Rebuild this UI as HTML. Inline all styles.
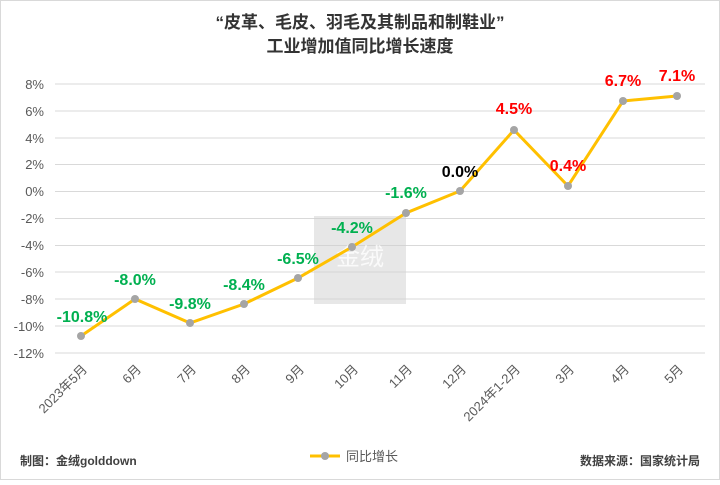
<!DOCTYPE html>
<html><head><meta charset="utf-8"><style>
html,body{margin:0;padding:0;background:#fff;}
body{width:720px;height:480px;overflow:hidden;}
</style></head><body>
<svg width="720" height="480" xmlns="http://www.w3.org/2000/svg" font-family="'Liberation Sans','Noto Sans CJK SC',sans-serif">
<rect x="0.5" y="0.5" width="719" height="479" fill="#fff" stroke="#d9d9d9"/>
<text x="360" y="28" text-anchor="middle" font-size="17" font-weight="bold" fill="#333">“皮革、毛皮、羽毛及其制品和制鞋业”</text>
<text x="360" y="52" text-anchor="middle" font-size="17" font-weight="bold" fill="#333">工业增加值同比增长速度</text>
<g stroke="#d9d9d9" stroke-width="1">
<line x1="55" x2="705" y1="84" y2="84"/><line x1="55" x2="705" y1="111" y2="111"/>
<line x1="55" x2="705" y1="138" y2="138"/><line x1="55" x2="705" y1="164.5" y2="164.5"/>
<line x1="55" x2="705" y1="191.5" y2="191.5"/><line x1="55" x2="705" y1="218.5" y2="218.5"/>
<line x1="55" x2="705" y1="245.5" y2="245.5"/><line x1="55" x2="705" y1="272" y2="272"/>
<line x1="55" x2="705" y1="299" y2="299"/><line x1="55" x2="705" y1="326" y2="326"/>
<line x1="55" x2="705" y1="353" y2="353"/>
</g>
<g font-size="13" fill="#595959" text-anchor="end">
<text x="44" y="89">8%</text><text x="44" y="116">6%</text><text x="44" y="143">4%</text>
<text x="44" y="169">2%</text><text x="44" y="196">0%</text><text x="44" y="223">-2%</text>
<text x="44" y="250">-4%</text><text x="44" y="277">-6%</text><text x="44" y="304">-8%</text>
<text x="44" y="331">-10%</text><text x="44" y="358">-12%</text>
</g>
<rect x="314" y="216" width="92" height="88" fill="#d0d0d0" opacity="0.5"/>
<text x="360" y="265" text-anchor="middle" font-size="24" fill="#fff" opacity="0.8">金绒</text>
<polyline fill="none" stroke="#ffc000" stroke-width="3" points="81,336 135,299 190,323 244,304 298,278 352,247 406,213 460,191 514,130 568,186 623,101 677,96"/>
<g fill="#a5a5a5">
<circle cx="81" cy="336" r="4"/><circle cx="135" cy="299" r="4"/><circle cx="190" cy="323" r="4"/>
<circle cx="244" cy="304" r="4"/><circle cx="298" cy="278" r="4"/><circle cx="352" cy="247" r="4"/>
<circle cx="406" cy="213" r="4"/><circle cx="460" cy="191" r="4"/><circle cx="514" cy="130" r="4"/>
<circle cx="568" cy="186" r="4"/><circle cx="623" cy="101" r="4"/><circle cx="677" cy="96" r="4"/>
</g>
<g font-size="16" font-weight="bold" text-anchor="middle">
<g fill="#00b050">
<text x="82" y="322">-10.8%</text><text x="135" y="285">-8.0%</text><text x="190" y="309">-9.8%</text>
<text x="244" y="290">-8.4%</text><text x="298" y="264">-6.5%</text><text x="352" y="233">-4.2%</text>
<text x="406" y="198">-1.6%</text></g>
<text x="460" y="177" fill="#000">0.0%</text>
<g fill="#ff0000"><text x="514" y="114">4.5%</text><text x="568" y="171">0.4%</text>
<text x="623" y="86">6.7%</text><text x="677" y="81">7.1%</text></g>
</g>
<g font-size="13" fill="#595959" text-anchor="end">
<text transform="translate(88,370) rotate(-45)">2023年5月</text>
<text transform="translate(142,370) rotate(-45)">6月</text>
<text transform="translate(197,370) rotate(-45)">7月</text>
<text transform="translate(251,370) rotate(-45)">8月</text>
<text transform="translate(305,370) rotate(-45)">9月</text>
<text transform="translate(359,370) rotate(-45)">10月</text>
<text transform="translate(413,370) rotate(-45)">11月</text>
<text transform="translate(467,370) rotate(-45)">12月</text>
<text transform="translate(521,370) rotate(-45)">2024年1-2月</text>
<text transform="translate(575,370) rotate(-45)">3月</text>
<text transform="translate(630,370) rotate(-45)">4月</text>
<text transform="translate(684,370) rotate(-45)">5月</text>
</g>
<text x="20" y="465" font-size="12" font-weight="bold" fill="#404040">制图：金绒golddown</text>
<line x1="310" y1="456" x2="340" y2="456" stroke="#ffc000" stroke-width="3"/>
<circle cx="325" cy="456" r="4" fill="#a5a5a5"/>
<text x="346" y="461" font-size="13" fill="#595959">同比增长</text>
<text x="700" y="465" text-anchor="end" font-size="12" font-weight="bold" fill="#404040">数据来源：国家统计局</text>
</svg>
</body></html>
